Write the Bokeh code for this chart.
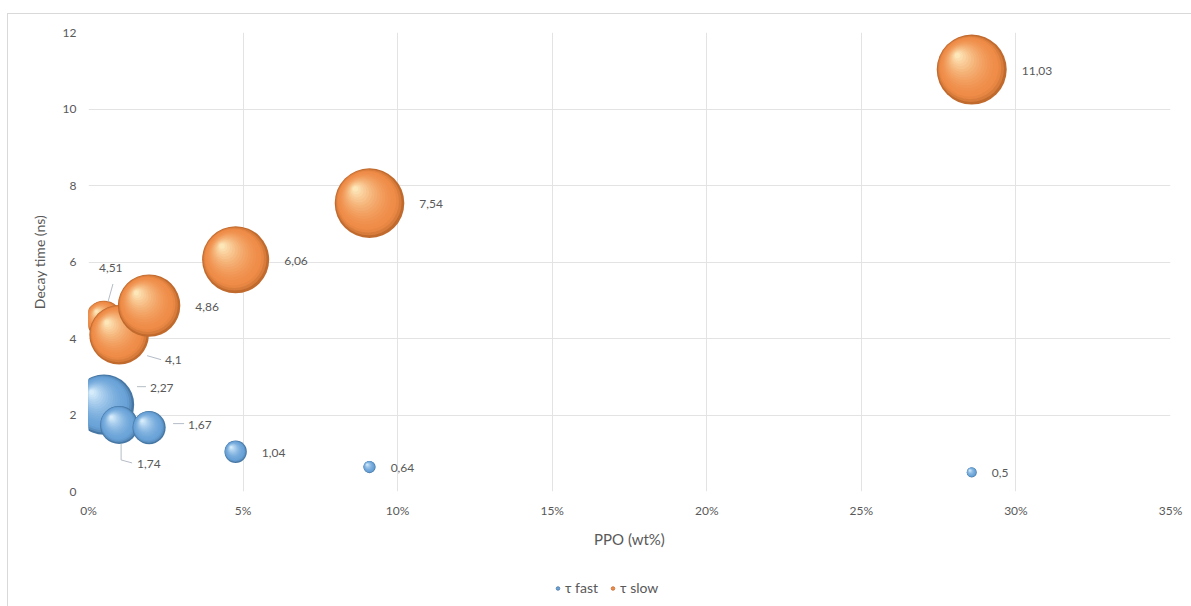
import numpy as np
from bokeh.plotting import figure
from bokeh.layouts import column
from bokeh.models import (Range1d, FixedTicker, PrintfTickFormatter, ColumnDataSource,
                          Legend, LegendItem)
from bokeh.core.properties import value
from bokeh.embed import file_html
from bokeh.resources import INLINE

# ---------------- data ----------------
ppo_wt = [0.5, 0.99, 1.96, 4.76, 9.09, 28.57]          # PPO concentration (wt%)
tau_fast = [2.27, 1.74, 1.67, 1.04, 0.64, 0.5]         # fast decay time (ns)
tau_slow = [4.51, 4.1, 4.86, 6.06, 7.54, 11.03]        # slow decay time (ns)
weight_fast = [73, 29, 22, 10, 3, 2]                   # bubble size (relative weight, %)
weight_slow = [27, 71, 78, 90, 97, 98]
x_ticks = [0, 5, 10, 15, 20, 25, 30, 35]
y_ticks = [0, 2, 4, 6, 8, 10, 12]
series_names = ["τ fast", "τ slow"]

# ---------------- styles ----------------
FONT = "Lato"
TXT = "#595959"
GRID = "#e3e3e3"
X0, X1, Y0, Y1 = 0, 35, 0, 12
FW, FH = 1082, 459           # frame size in px
KX, KY = FW / (X1 - X0), FH / (Y1 - Y0)
MAX_D = 70                   # diameter of the largest bubble (px)
SMAX = max(weight_fast + weight_slow)

BLUE = ("#4677a4", "#6aa3d8", "#d6ecfb")
ORANGE = ("#c06a2e", "#ef8c48", "#fde6b8")

# label offsets (px, right / down) for labels that Excel moved; others sit right of the bubble
label_moves = {("fast", 0): (46, -17), ("fast", 1): (18, 39), ("fast", 2): (39, -3),
               ("slow", 0): (-5, -51), ("slow", 1): (46, 25)}
leader_px = {("fast", 0): [(33, -18), (42, -18)],
             ("fast", 1): [(2, 19), (2, 35), (13, 38)],
             ("fast", 2): [(24, -4), (35, -4)],
             ("slow", 0): [(9, -35), (4, -17)],
             ("slow", 1): [(28, 21), (42, 25)]}


def hex2rgb(h):
    h = h.lstrip("#")
    return np.array([int(h[i:i + 2], 16) for i in (0, 2, 4)], dtype=float)


def rgb2hex(c):
    c = np.clip(np.round(c), 0, 255).astype(int)
    return "#%02x%02x%02x" % tuple(c)


def diam(w):
    return MAX_D * np.sqrt(w / SMAX)


def sphere_source(xs, ys, ws, pal):
    edge, base, light = (hex2rgb(c) for c in pal)
    rows = dict(x=[], y=[], size=[], color=[])
    N = 18
    for x, y, w in zip(xs, ys, ws):
        d = diam(w)
        for i in range(N):
            t = i / (N - 1)
            dd = d * (1 - 0.92 * t)
            off = (d - dd) / 2 * 0.62 / np.sqrt(2)
            if t < 0.15:
                c = edge + (base - edge) * (t / 0.15) ** 0.7
            else:
                u = ((t - 0.15) / 0.85) ** 1.6
                c = base + (light - base) * u
            rows["x"].append(x - off / KX)
            rows["y"].append(y + off / KY)
            rows["size"].append(dd)
            rows["color"].append(rgb2hex(c))
    return ColumnDataSource(rows)


def label_source(key, xs, ys, ws):
    rows = dict(x=[], y=[], text=[], dx=[], dy=[])
    for i, (x, y, w) in enumerate(zip(xs, ys, ws)):
        dx, dy = label_moves.get((key, i), (diam(w) / 2 + 15, 1))
        rows["x"].append(x)
        rows["y"].append(y)
        rows["text"].append(("%g" % y).replace(".", ","))
        rows["dx"].append(dx)
        rows["dy"].append(dy)
    return ColumnDataSource(rows)


def leader_source(key, xs, ys):
    lx, ly = [], []
    for i, (x, y) in enumerate(zip(xs, ys)):
        if (key, i) in leader_px:
            pts = leader_px[(key, i)]
            lx.append([x + px / KX for px, py in pts])
            ly.append([y - py / KY for px, py in pts])
    return ColumnDataSource(dict(xs=lx, ys=ly))


p = figure(width=1183, height=539, output_backend="svg", toolbar_location=None,
           x_range=Range1d(X0, X1), y_range=Range1d(Y0, Y1),
           min_border_left=80, min_border_right=21, min_border_top=18, min_border_bottom=62)
p.outline_line_color = None
p.background_fill_color = "white"
p.border_fill_color = "white"

for ax in (p.xaxis[0], p.yaxis[0]):
    ax.axis_line_color = None
    ax.major_tick_line_color = None
    ax.minor_tick_line_color = None
    ax.major_label_text_font = FONT
    ax.major_label_text_font_size = "12px"
    ax.major_label_text_color = TXT
    ax.axis_label_text_font = FONT
    ax.axis_label_text_font_size = "14px"
    ax.axis_label_text_color = TXT
    ax.axis_label_text_font_style = "normal"
p.xaxis.axis_label_text_font_size = "15px"

p.xaxis.ticker = FixedTicker(ticks=x_ticks)
p.xaxis.formatter = PrintfTickFormatter(format="%d%%")
p.xaxis.axis_label = "PPO (wt%)"
p.xaxis.major_label_standoff = 5
p.xaxis.axis_label_standoff = 9
p.yaxis.ticker = FixedTicker(ticks=y_ticks)
p.yaxis.axis_label = "Decay time (ns)"
p.yaxis.major_label_standoff = 6
p.yaxis.axis_label_standoff = 12

p.xgrid.ticker = FixedTicker(ticks=x_ticks)
p.ygrid.ticker = FixedTicker(ticks=y_ticks)
for g in (p.xgrid[0], p.ygrid[0]):
    g.grid_line_color = GRID
    g.grid_line_width = 1

# bubbles (fast series first, then slow, each in data order)
for key, ys, ws, pal in (("fast", tau_fast, weight_fast, BLUE), ("slow", tau_slow, weight_slow, ORANGE)):
    src = sphere_source(ppo_wt, ys, ws, pal)
    p.scatter("x", "y", size="size", fill_color="color", line_color=None, source=src)

# leader lines and data labels
for key, ys, ws in (("fast", tau_fast, weight_fast), ("slow", tau_slow, weight_slow)):
    p.multi_line("xs", "ys", source=leader_source(key, ppo_wt, ys), line_color="#b4bcc6", line_width=1)
    p.text("x", "y", text="text", x_offset="dx", y_offset="dy", source=label_source(key, ppo_wt, ys, ws),
           text_font=value(FONT), text_font_size="12px", text_color=TXT,
           text_align="left", text_baseline="middle")

# legend strip below the chart (its glyph renderers hold one point outside the visible range)
lf = figure(width=1183, height=53, output_backend="svg", toolbar_location=None,
            x_range=Range1d(0, 1), y_range=Range1d(0, 1), min_border=0)
lf.axis.visible = False
lf.grid.visible = False
lf.outline_line_color = None
leg_r = []
for pal in (BLUE, ORANGE):
    leg_r.append(lf.scatter("x", "y", source=ColumnDataSource(dict(x=[-5], y=[-5])), size=7,
                            fill_color=pal[1], line_color=pal[0], line_width=0.8))
legend = Legend(items=[LegendItem(label=series_names[i], renderers=[leg_r[i]]) for i in range(2)],
                orientation="horizontal", location=(465, 10), margin=0, padding=4,
                label_text_font=FONT, label_text_font_size="14px", label_text_color=TXT,
                glyph_width=9, glyph_height=10, spacing=10, label_standoff=3,
                border_line_color=None, background_fill_alpha=0)
lf.add_layout(legend, "center")

layout = column(p, lf, spacing=0, margin=(13, 0, 0, 7),
                styles={"border-left": "1px solid #d9d9d9", "border-top": "1px solid #d9d9d9"})

open("out.html", "w").write(file_html(layout, INLINE))
